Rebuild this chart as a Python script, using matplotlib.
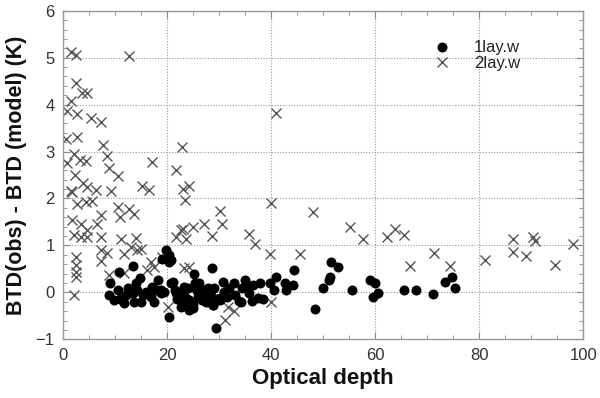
import matplotlib
matplotlib.use("Agg")
import matplotlib.pyplot as plt
from matplotlib.ticker import MultipleLocator

plt.rcParams['font.family'] = ['Liberation Sans', 'DejaVu Sans']

# 1lay.w (filled circles)
lay1_x = [9.0, 8.9, 9.8, 10.5, 10.8, 13.5, 11.75, 12.1, 13.4, 14.0, 14.3, 13.7, 15.0,
          16.9, 17.2, 18.2, 18.8, 17.5, 19.8, 20.4, 19.1, 20.4, 20.7, 21.7, 22.7, 20.4,
          15.3, 17.8, 18.9, 28.6, 21.1, 25.2, 23.3, 22.4, 24.9, 29.4, 26.8, 28.1, 28.8,
          30.7, 31.0, 32.9, 34.9, 35.5, 35.8, 34.2, 37.4, 37.8, 39.7, 41.0, 40.5, 42.6,
          42.9, 44.5, 26.2, 24.3, 30.1, 27.5, 25.3, 25.9, 26.7, 27.8, 28.9, 30.2, 33.9,
          36.3, 24.3, 23.7, 44.3, 51.6, 52.9, 51.3, 51.1, 50.0, 48.4, 55.6, 59.1, 59.9,
          60.6, 59.5, 65.5, 67.8, 71.2, 73.4, 74.7, 75.3, 20.75,
          21.5, 22.0, 23.0, 24.0, 25.0, 26.0, 27.0, 28.0, 29.0, 29.5, 31.5, 32.0, 33.0,
          34.5, 36.5, 38.5, 11.0, 12.5, 14.8, 16.0, 19.5, 27.3, 28.4, 25.6, 23.8]
lay1_y = [0.20, -0.06, -0.16, 0.05, 0.44, 0.56, -0.23, -0.06, -0.02, 0.19, 0.05, -0.20, -0.20,
          -0.09, 0.12, 0.26, 0.05, -0.20, 0.90, 0.79, 0.72, 0.65, 0.19, -0.02, -0.31, -0.53,
          -0.05, 0.06, -0.01, 0.51, 0.23, 0.40, 0.12, -0.13, -0.34, -0.77, 0.05, -0.06, -0.27,
          0.23, 0.01, 0.19, 0.26, 0.12, -0.02, -0.20, -0.13, 0.20, 0.19, 0.32, 0.05, 0.19,
          0.05, 0.47, 0.19, -0.16, -0.13, -0.20, 0.20, -0.01, -0.16, 0.09, -0.26, -0.16, -0.19,
          -0.19, -0.37, -0.12, 0.16, 0.65, 0.53, 0.33, 0.26, 0.09, -0.36, 0.06, 0.26, 0.19,
          -0.01, -0.09, 0.04, 0.06, -0.04, 0.23, 0.33, 0.10, 0.69,
          0.05, -0.15, 0.00, 0.10, -0.25, -0.10, 0.05, -0.20, 0.10, -0.15, -0.10, 0.10, -0.05,
          0.10, 0.15, -0.15, -0.15, 0.10, 0.30, 0.00, 0.00, -0.08, 0.02, 0.08, -0.22]

# 2lay.w (crosses)
lay2_x = [1.5, 2.5, 12.7, 2.45, 3.7, 4.55, 1.5, 0.7, 2.6, 5.45, 7.4, 0.5, 2.75, 7.6, 22.9, 41.0,
          2.1, 8.5, 0.83, 3.3, 4.4, 17.2, 21.8, 8.9, 2.25, 10.5, 3.9, 4.7, 6.3, 1.8, 1.6, 9.3,
          15.1, 16.6, 23.0, 24.3, 23.5, 40.0, 30.1, 48.0,
          2.75, 4.4, 5.6, 10.5, 12.7, 13.7, 11.0, 7.3, 1.8, 3.4, 6.6, 4.7, 2.1, 3.4, 4.7, 7.3,
          11.1, 14.0, 13.0, 15.0, 7.3, 8.5, 11.8, 2.45, 21.7, 22.7,
          30.6, 27.2, 23.0, 24.9, 23.6, 28.65, 35.7, 37.0,
          2.45, 2.45, 2.45, 2.1, 7.3, 14.3, 16.9, 16.2, 17.5, 19.1, 20.1, 8.9, 11.75,
          23.3, 24.3, 39.7, 40.0, 31.7, 32.9, 31.2, 45.6,
          55.1, 57.6, 62.2, 63.8, 65.6, 66.8, 71.3, 74.4, 81.1, 86.5, 86.5, 89.0, 90.3, 90.7,
          94.6, 98.0]
lay2_y = [5.12, 5.06, 5.03, 4.46, 4.25, 4.24, 4.08, 3.87, 3.80, 3.71, 3.63, 3.26, 3.30, 3.14, 3.10, 3.83,
          2.95, 2.91, 2.75, 2.82, 2.80, 2.77, 2.60, 2.66, 2.50, 2.48, 2.32, 2.24, 2.19, 2.14, 2.17, 2.16,
          2.26, 2.18, 2.21, 2.26, 1.97, 1.90, 1.74, 1.72,
          1.88, 1.92, 1.95, 1.82, 1.77, 1.67, 1.61, 1.65, 1.54, 1.45, 1.45, 1.33, 1.22, 1.17, 1.17, 1.17,
          1.13, 1.15, 0.97, 0.92, 0.90, 0.83, 0.82, 0.76, 1.17, 1.33,
          1.45, 1.45, 1.36, 1.40, 1.13, 1.20, 1.24, 1.03,
          0.58, 0.44, 0.33, -0.06, 0.67, 0.90, 0.65, 0.47, 0.55, 0.76, -0.31, 0.37, 0.41,
          0.51, 0.55, 0.82, -0.20, -0.31, -0.39, -0.59, 0.82,
          1.39, 1.14, 1.19, 1.36, 1.22, 0.56, 0.84, 0.56, 0.70, 1.14, 0.85, 0.77, 1.18, 1.10,
          0.58, 1.04]

series_labels = ['1lay.w', '2lay.w']
x_ticks = [0, 20, 40, 60, 80, 100]
y_ticks = [-1, 0, 1, 2, 3, 4, 5, 6]

fig = plt.figure(figsize=(6.0, 3.98), dpi=100)
ax = fig.add_axes([0.105, 0.1475, 0.867, 0.8255])

ax.plot(lay1_x, lay1_y, linestyle='none', marker='o', markersize=7.2,
        color='black', markeredgewidth=0, label=series_labels[0], zorder=3)
ax.plot(lay2_x, lay2_y, linestyle='none', marker='x', markersize=7.0,
        color='#555555', markeredgewidth=1.0, label=series_labels[1], zorder=2)

ax.set_xlim(0, 100)
ax.set_ylim(-1, 6)
ax.set_xticks(x_ticks)
ax.set_yticks(y_ticks)
ax.xaxis.set_minor_locator(MultipleLocator(5))
ax.yaxis.set_minor_locator(MultipleLocator(0.2))
ax.tick_params(which='both', direction='in', top=True, right=True, color='#888888')
ax.tick_params(which='major', length=5, width=0.8, labelsize=12, labelcolor='#333333', pad=6)
ax.tick_params(which='minor', length=3, width=0.6)
ax.grid(True, which='major', linestyle=(0, (1, 1.5)), color='#999999', linewidth=0.8)
for s in ax.spines.values():
    s.set_color('#999999')
    s.set_linewidth(1.0)

ax.set_xlabel('Optical depth', fontsize=16, fontweight='bold', color='#111111', labelpad=4)
ax.set_ylabel('BTD(obs) - BTD (model) (K)', fontsize=15.5, fontweight='bold', color='#111111', labelpad=6)

leg = ax.legend(loc='upper left', bbox_to_anchor=(0.70, 0.93), frameon=False,
                fontsize=12, handlelength=1.0, handletextpad=1.4, labelspacing=0.05,
                borderaxespad=0)
for t in leg.get_texts():
    t.set_color('#222222')

fig.savefig('out.png', dpi=100)
